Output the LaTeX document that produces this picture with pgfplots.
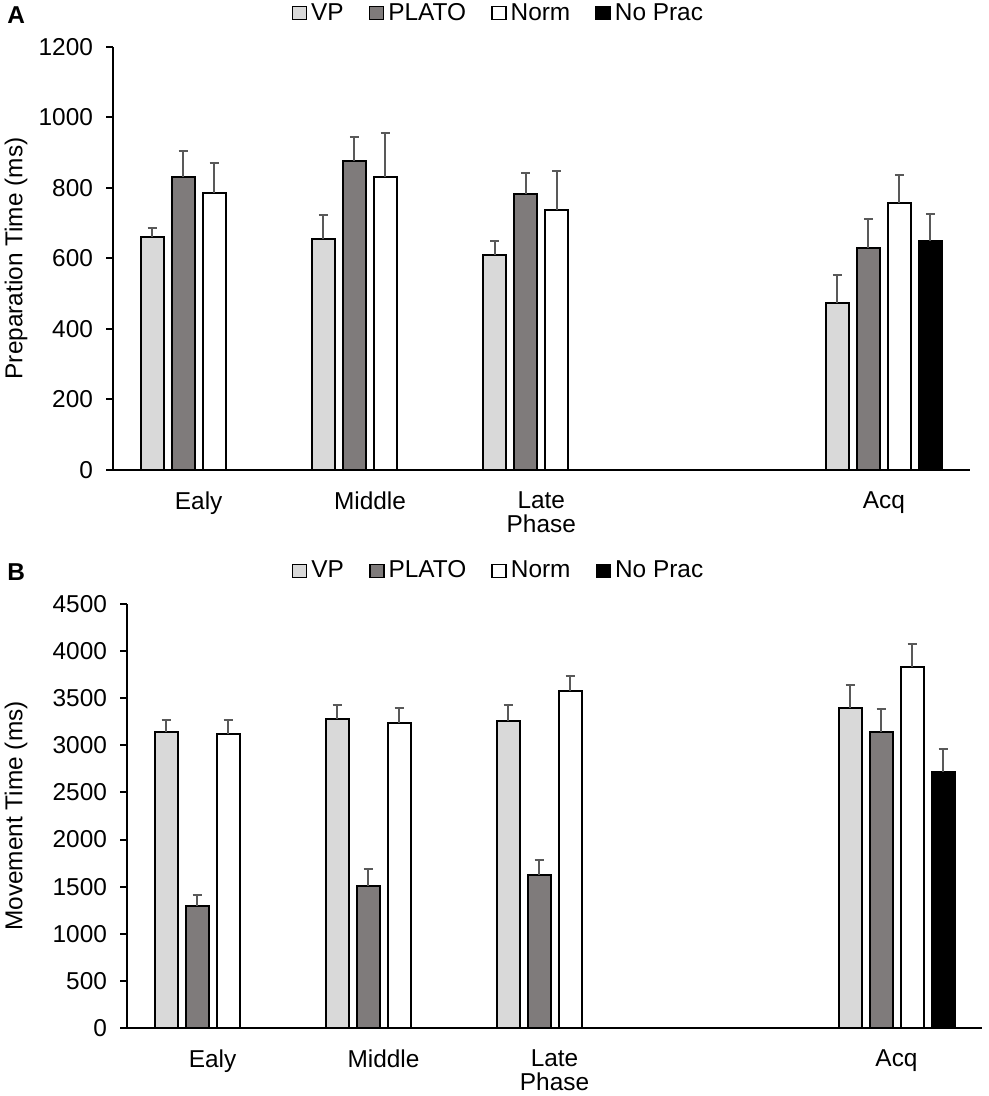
\documentclass[border=0pt]{standalone}
\usepackage{fontspec}
\setmainfont{Liberation Sans}
\usepackage{pgfplots}
\pgfplotsset{compat=1.18}
\definecolor{vp}{HTML}{D9D9D9}
\definecolor{plato}{HTML}{7F7B7B}
\definecolor{errc}{HTML}{595959}
\newcommand\fs{\fontsize{12.2}{12}\selectfont}
\pgfplotsset{
  mybars/.style={
    scale only axis, anchor=south west,
    ybar, bar width=11.5pt,
    xmin=-0.5, xmax=4.5, ymin=0,
    xtick={0,1,2,4}, xticklabels={Ealy,Middle,{Late\\Phase},Acq},
    axis x line*=bottom, axis y line*=left,
    axis line style={line width=1pt,-},
    tick align=outside, major tick length=3.5pt,
    x tick style={draw=none}, y tick style={line width=1pt,black},
    tick label style={font=\fs}, label style={font=\fs},
    xticklabel style={align=center, yshift=-4pt},
    yticklabel style={xshift=-3pt},
    /pgf/number format/assume math mode=true, /pgf/number format/1000 sep={},
    scaled y ticks=false,
    legend columns=4,
    legend style={draw=none, fill=none, font=\fs, anchor=center,
      /tikz/every even column/.append style={column sep=10.5pt},
      /tikz/every odd column/.append style={column sep=0pt}},
    legend image code/.code={\draw[#1, line width=0.8pt] (0pt,-3.25pt) rectangle (7pt,3.25pt);},
    error bars/y dir=plus, error bars/y explicit,
    error bars/error bar style={line width=1pt,errc},
    error bars/error mark options={rotate=90,mark size=2.25pt,line width=1pt,errc},
  },
  vpbar/.style={fill=vp, draw=black, line width=1pt, bar shift=-23.25pt},
  platobar/.style={fill=plato, draw=black, line width=1pt, bar shift=-7.75pt},
  normbar/.style={fill=white, draw=black, line width=1pt, bar shift=7.75pt},
  nopracbar/.style={fill=black, draw=black, line width=1pt, bar shift=23.25pt},
}
\begin{document}
\begin{tikzpicture}
\useasboundingbox (0,0) rectangle (494.5pt,548pt);
\node[anchor=west, font=\fs\bfseries, inner sep=0pt] at (3.5pt,540.5pt) {A};
\node[anchor=west, font=\fs\bfseries, inner sep=0pt] at (3.5pt,262pt) {B};
% Panel A
\begin{axis}[mybars, at={(56.5pt,313pt)}, width=428.25pt, height=211.5pt,
  ymax=1200, ytick={0,200,...,1200},
  ylabel={Preparation Time (ms)},
  ylabel style={at={(axis description cs:-0.1133,0.5)}, anchor=center},
  legend style={at={(axis description cs:0.451,1.080)}}]
\addplot[vpbar] coordinates {(0,662) +- (0,25) (1,655) +- (0,68) (2,610) +- (0,40) (4,475) +- (0,78)};
\addlegendentry{VP}
\addplot[platobar] coordinates {(0,831) +- (0,74) (1,877) +- (0,69) (2,784) +- (0,59) (4,631) +- (0,81)};
\addlegendentry{PLATO}
\addplot[normbar] coordinates {(0,787) +- (0,84) (1,831) +- (0,126) (2,738) +- (0,111) (4,758) +- (0,79)};
\addlegendentry{Norm}
\addplot[nopracbar] coordinates {(4,649) +- (0,78)};
\addlegendentry{No Prac}
\end{axis}
% Panel B
\begin{axis}[mybars, at={(63.5pt,34pt)}, width=427.5pt, height=212pt,
  ymax=4500, ytick={0,500,...,4500},
  ylabel={Movement Time (ms)},
  ylabel style={at={(axis description cs:-0.1298,0.5)}, anchor=center},
  legend style={at={(axis description cs:0.4357,1.078)}}]
\addplot[vpbar] coordinates {(0,3142) +- (0,128) (1,3280) +- (0,149) (2,3259) +- (0,170) (4,3400) +- (0,245)};
\addlegendentry{VP}
\addplot[platobar] coordinates {(0,1295) +- (0,120) (1,1511) +- (0,177) (2,1628) +- (0,155) (4,3146) +- (0,240)};
\addlegendentry{PLATO}
\addplot[normbar] coordinates {(0,3124) +- (0,146) (1,3238) +- (0,162) (2,3577) +- (0,163) (4,3832) +- (0,244)};
\addlegendentry{Norm}
\addplot[nopracbar] coordinates {(4,2721) +- (0,244)};
\addlegendentry{No Prac}
\end{axis}
\end{tikzpicture}
\end{document}
